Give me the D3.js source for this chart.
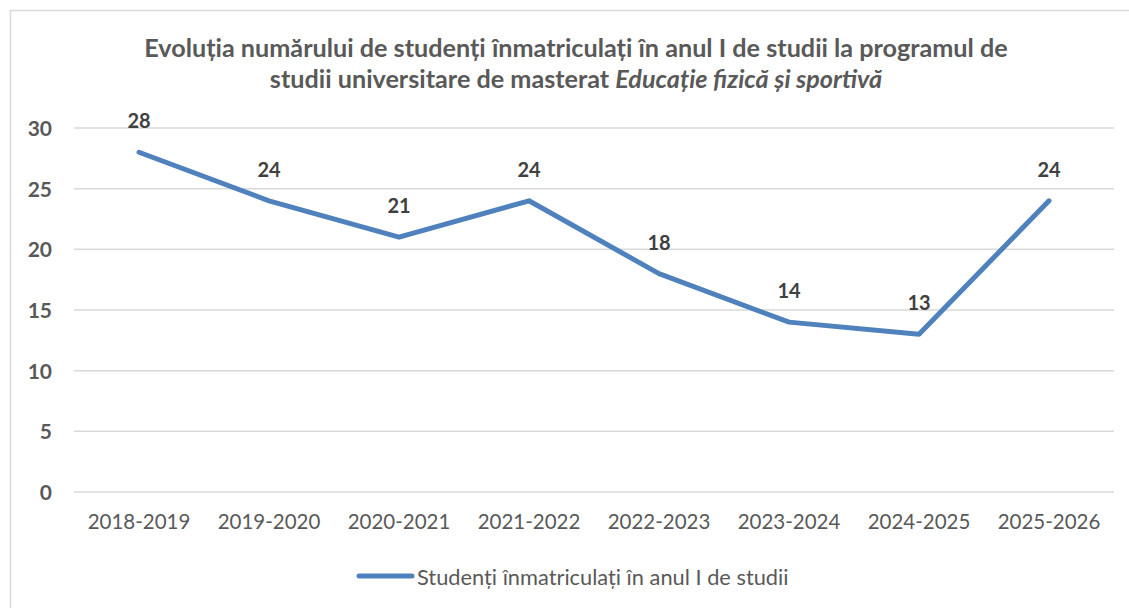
<!DOCTYPE html>
<html><head><meta charset="utf-8">
<script src="https://cdn.jsdelivr.net/npm/d3@7"></script>
<style>body{margin:0;background:#fff}svg{display:block}text{font-family:Lato,"Open Sans",sans-serif}</style>
</head><body><svg id="c" width="1129" height="608"></svg>
<script>
const categories=["2018-2019","2019-2020","2020-2021","2021-2022","2022-2023","2023-2024","2024-2025","2025-2026"];
const values=[28,24,21,24,18,14,13,24];
const yTicks=[0,5,10,15,20,25,30];
const seriesName="Studenți înmatriculați în anul I de studii";
const titleLine1="Evoluția numărului de studenți înmatriculați în anul I de studii la programul de";
const titleLine2a="studii universitare de masterat ";
const titleLine2b="Educație fizică și sportivă";

const svg=d3.select("#c");
const W=1129,H=608;
svg.append("rect").attr("x",10.5).attr("y",10.5).attr("width",W+20).attr("height",H+20).attr("fill","#fff").attr("stroke","#d9d9d9").attr("stroke-width",1.5);

const x=d3.scaleBand().domain(categories).range([74,1114]);
const y=d3.scaleLinear().domain([0,30]).range([492,128]);

const grid=svg.append("g");
grid.selectAll("line").data(yTicks).join("line")
 .attr("x1",74).attr("x2",1114).attr("y1",d=>y(d)).attr("y2",d=>y(d))
 .attr("stroke","#d9d9d9").attr("stroke-width",1.5);

const yAxis=svg.append("g").attr("transform","translate(74,0)")
 .call(d3.axisLeft(y).tickValues(yTicks).tickSize(0).tickPadding(22));
yAxis.select(".domain").remove();
yAxis.selectAll("text").attr("font-size",21).attr("font-weight","bold").attr("fill","#595959").attr("dy","0.35em");

const xAxis=svg.append("g").attr("transform","translate(0,492)")
 .call(d3.axisBottom(x).tickSize(0).tickPadding(22));
xAxis.select(".domain").remove();
xAxis.selectAll("text").attr("font-size",20.5).attr("fill","#595959");

const line=d3.line().x((d,i)=>x(categories[i])+x.bandwidth()/2).y(d=>y(d));
svg.append("path").datum(values).attr("d",line).attr("fill","none")
 .attr("stroke","#4f81bd").attr("stroke-width",5).attr("stroke-linecap","round").attr("stroke-linejoin","round");

svg.append("g").selectAll("text").data(values).join("text")
 .attr("x",(d,i)=>x(categories[i])+x.bandwidth()/2).attr("y",d=>y(d)-24)
 .attr("text-anchor","middle").attr("font-size",20).attr("font-weight","bold").attr("fill","#404040").text(d=>d);

const t=svg.append("g").attr("font-size",25.2).attr("font-weight","bold").attr("fill","#595959");
t.append("text").attr("x",576).attr("y",57).attr("text-anchor","middle").text(titleLine1);
const t2=t.append("text").attr("x",576).attr("y",88).attr("text-anchor","middle");
t2.append("tspan").text(titleLine2a);
t2.append("tspan").attr("font-style","italic").text(titleLine2b);

const lg=svg.append("g");
lg.append("line").attr("x1",359).attr("x2",412).attr("y1",576).attr("y2",576).attr("stroke","#4f81bd").attr("stroke-width",5).attr("stroke-linecap","round");
lg.append("text").attr("x",417).attr("y",585).attr("font-size",21.8).attr("fill","#595959").text(seriesName);
</script></body></html>
